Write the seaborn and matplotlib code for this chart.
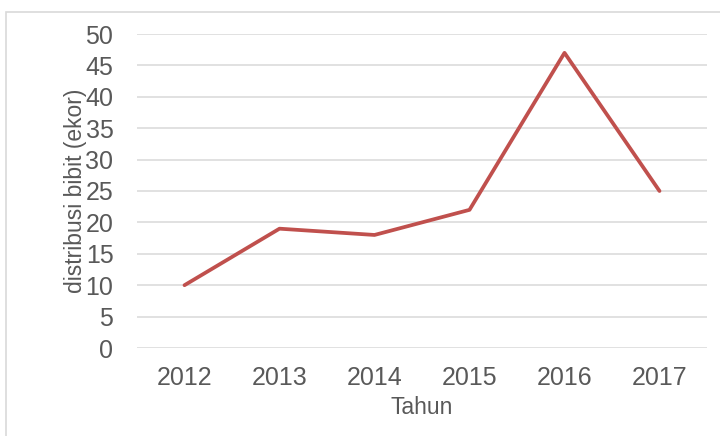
import matplotlib
matplotlib.use("Agg")
import matplotlib.pyplot as plt
import seaborn as sns
import pandas as pd
from matplotlib.patches import Rectangle

# data
years = ["2012", "2013", "2014", "2015", "2016", "2017"]
bibit = [10, 19, 18, 22, 47, 25]

df = pd.DataFrame({"Tahun": years, "distribusi": bibit})

sns.set_theme(style="white")
plt.rcParams["font.family"] = ["Liberation Sans", "DejaVu Sans"]

text_col = "#595959"
grid_col = "#D9D9D9"

fig = plt.figure(figsize=(7.2, 4.36), dpi=100)
ax = fig.add_axes([137 / 720, 1 - 348 / 436, 570 / 720, 314 / 436])

# chart border like the Excel frame
fig.patches.append(Rectangle((6 / 720, -0.1), 1.2, 1 - 12 / 436 + 0.1,
                             transform=fig.transFigure, fill=False,
                             edgecolor=grid_col, linewidth=1.2))

sns.lineplot(data=df, x="Tahun", y="distribusi", color="#C0504D",
             linewidth=2.7, ax=ax, sort=False)

ax.set_xlim(-0.5, len(years) - 0.5)
ax.set_ylim(0, 50)
ax.set_yticks(range(0, 51, 5))
ax.yaxis.grid(True, color=grid_col, linewidth=1.1)
ax.xaxis.grid(False)
ax.set_axisbelow(True)
for s in ax.spines.values():
    s.set_visible(False)

ax.tick_params(axis="both", length=0, labelsize=18, colors=text_col)
ax.tick_params(axis="x", pad=13)
ax.tick_params(axis="y", pad=17)

ax.set_xlabel("Tahun", fontsize=16.5, color=text_col)
ax.set_ylabel("distribusi bibit (ekor)", fontsize=16.5, color=text_col)
ax.xaxis.set_label_coords(0.5, (348 - 396) / 314)
ax.yaxis.set_label_coords((87 - 137) / 570, 0.5)

fig.savefig("out.png", dpi=100)
